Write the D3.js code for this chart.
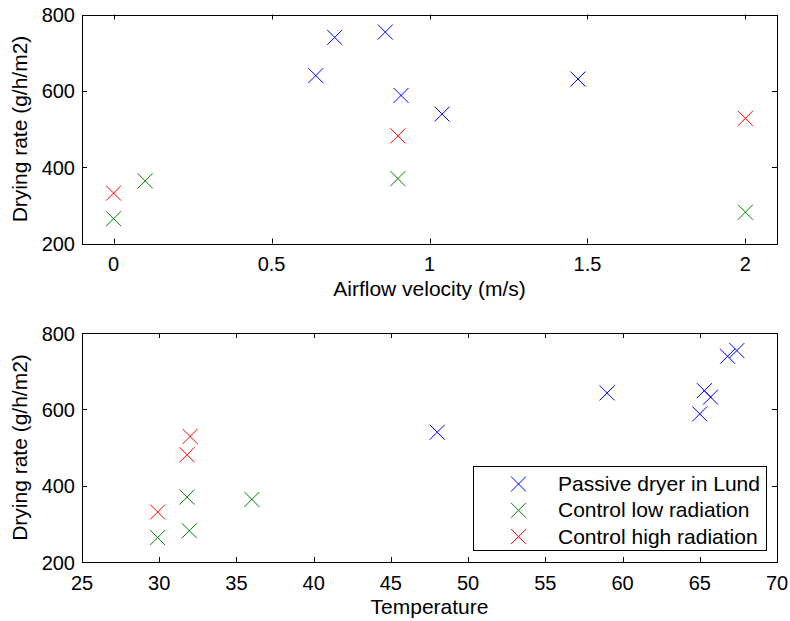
<!DOCTYPE html>
<html>
<head>
<meta charset="utf-8">
<script src="https://cdn.jsdelivr.net/npm/d3@7"></script>
<style>
  body { margin: 0; background: #fff; }
  svg { display: block; font-family: 'Liberation Sans', Arial, Helvetica, sans-serif; }
</style>
</head>
<body>
<div id="chart"></div>
<script>
// Top panel: drying rate vs airflow velocity
const passiveVelocity = [0.64, 0.70, 0.86, 0.91, 1.04, 1.47];
const passiveRateV = [640, 740, 754, 588, 539, 631];
const lowVelocity = [0, 0.1, 0.9, 2.0];
const lowRateV = [265, 364, 370, 282];
const highVelocity = [0, 0.9, 2.0];
const highRateV = [332, 482, 528];

// Bottom panel: drying rate vs temperature
const passiveTemp = [48.0, 59.0, 65.0, 65.3, 65.7, 66.8, 67.4];
const passiveRateT = [540, 643, 588, 649, 632, 739, 754];
const lowTemp = [29.9, 31.95, 31.8, 36.0];
const lowRateT = [264, 282, 370, 364];
const highTemp = [29.9, 31.8, 32.0];
const highRateT = [331, 481, 529];

const velocityTicks = [0, 0.5, 1, 1.5, 2];
const tempTicks = [25, 30, 35, 40, 45, 50, 55, 60, 65, 70];
const rateTicks = [200, 400, 600, 800];

const seriesNames = ['Passive dryer in Lund', 'Control low radiation', 'Control high radiation'];
const seriesColors = ['#0000ff', '#008000', '#ff0000'];

const width = 790, height = 621;
const svg = d3.select('#chart').append('svg').attr('width', width).attr('height', height);

const left = 82, right = 777;
const tickFont = 20;
const labelFont = 21;

function marker(g, x, y, color) {
    const s = 7.5;
    g.append('path')
        .attr('d', `M${x - s},${y - s}L${x + s},${y + s}M${x - s},${y + s}L${x + s},${y - s}`)
        .attr('stroke', color).attr('stroke-width', 1).attr('fill', 'none');
}

function panel(top, bottom, xDomain, xTicks, xLabel, series) {
    const x = d3.scaleLinear().domain(xDomain).range([left, right]);
    const y = d3.scaleLinear().domain([200, 800]).range([bottom, top]);
    const g = svg.append('g');
    const tick = 5;

    // ticks (inside, mirrored on top/right)
    xTicks.forEach(t => {
        const px = Math.round(x(t)) + 0.5;
        g.append('line').attr('x1', px).attr('x2', px).attr('y1', bottom).attr('y2', bottom - tick).attr('stroke', '#000');
        g.append('line').attr('x1', px).attr('x2', px).attr('y1', top).attr('y2', top + tick).attr('stroke', '#000');
        g.append('text').attr('x', x(t)).attr('y', bottom + 27.5)
            .attr('text-anchor', 'middle').attr('font-size', tickFont).text(t);
    });
    rateTicks.forEach(t => {
        const py = Math.round(y(t)) + 0.5;
        g.append('line').attr('x1', left).attr('x2', left + tick).attr('y1', py).attr('y2', py).attr('stroke', '#000');
        g.append('line').attr('x1', right).attr('x2', right - tick).attr('y1', py).attr('y2', py).attr('stroke', '#000');
        g.append('text').attr('x', left - 7).attr('y', y(t) + 7.5)
            .attr('text-anchor', 'end').attr('font-size', tickFont).text(t);
    });

    g.append('rect').attr('x', left + 0.5).attr('y', Math.round(top) + 0.5)
        .attr('width', right - left).attr('height', Math.round(bottom - top))
        .attr('fill', 'none').attr('stroke', '#000').attr('stroke-width', 1);

    series.forEach((s, i) => {
        s.xs.forEach((v, j) => marker(g, x(v), y(s.ys[j]), seriesColors[i]));
    });

    g.append('text').attr('x', (left + right) / 2).attr('y', bottom + 52)
        .attr('text-anchor', 'middle').attr('font-size', labelFont).text(xLabel);
    g.append('text')
        .attr('transform', `translate(27,${(top + bottom) / 2}) rotate(-90)`)
        .attr('text-anchor', 'middle').attr('font-size', labelFont).text('Drying rate (g/h/m2)');
    return g;
}

panel(14.5, 243.5, [-0.1, 2.1], velocityTicks, 'Airflow velocity (m/s)', [
    { xs: passiveVelocity, ys: passiveRateV },
    { xs: lowVelocity, ys: lowRateV },
    { xs: highVelocity, ys: highRateV }
]);

const bottomPanel = panel(333, 562, [25, 70], tempTicks, 'Temperature', [
    { xs: passiveTemp, ys: passiveRateT },
    { xs: lowTemp, ys: lowRateT },
    { xs: highTemp, ys: highRateT }
]);

// legend
const lg = bottomPanel.append('g');
lg.append('rect').attr('x', 473.5).attr('y', 466.5).attr('width', 293).attr('height', 84)
    .attr('fill', '#fff').attr('stroke', '#000');
seriesNames.forEach((name, i) => {
    const ly = 484 + i * 26.3;
    marker(lg, 518.5, ly, seriesColors[i]);
    lg.append('text').attr('x', 558).attr('y', ly + 7)
        .attr('font-size', labelFont).text(name);
});
</script>
</body>
</html>
